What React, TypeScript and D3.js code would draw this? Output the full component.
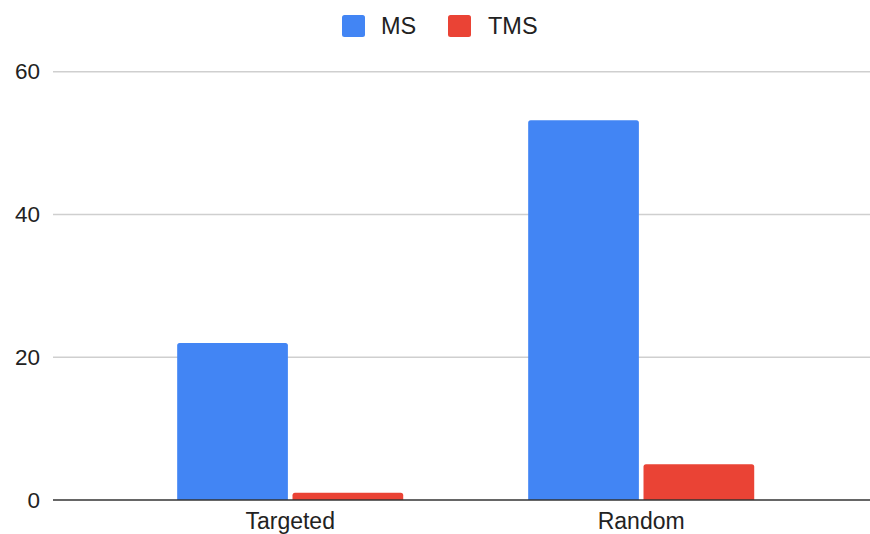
import React from "react";
import * as d3 from "d3";

const categories = ["Targeted", "Random"];
const seriesNames = ["MS", "TMS"];
const msValues = [22, 53.2];
const tmsValues = [1, 5];
const yTicks = [0, 20, 40, 60];
const colors = ["#4285F4", "#EA4335"];

const W = 870;
const H = 534;

function topRoundedRect(x: number, y: number, w: number, h: number, r: number) {
  const rr = Math.min(r, h, w / 2);
  return `M${x},${y + h}V${y + rr}Q${x},${y} ${x + rr},${y}H${x + w - rr}Q${x + w},${y} ${x + w},${y + rr}V${y + h}Z`;
}

export default function App() {
  const series = [msValues, tmsValues];
  const y = d3.scaleLinear().domain([0, 60]).range([500, 71.7]);
  const x0 = d3
    .scaleBand<string>()
    .domain(categories)
    .range([114.7, 816.7])
    .paddingInner(0.356)
    .paddingOuter(0.178);
  const x1 = d3
    .scaleBand<string>()
    .domain(seriesNames)
    .range([0, x0.bandwidth()])
    .paddingInner(0.04);

  const font = "'Liberation Sans', Arial, sans-serif";
  const legendItems = [
    { name: "MS", sx: 342, tx: 381 },
    { name: "TMS", sx: 448, tx: 488 },
  ];

  return (
    <svg
      width={W}
      height={H}
      style={{ position: "absolute", left: 0, top: 0, background: "#fff" }}
      fontFamily={font}
    >
      <rect width={W} height={H} fill="#fff" />
      {legendItems.map((it, i) => (
        <g key={it.name}>
          <rect x={it.sx} y={15} width={23} height={22} rx={2.5} fill={colors[i]} />
          <text x={it.tx} y={26} dominantBaseline="central" fontSize={23.5} fill="#222">
            {seriesNames[i]}
          </text>
        </g>
      ))}
      {yTicks.map((t) => (
        <g key={t}>
          {t !== 0 && (
            <line x1={53} x2={870} y1={y(t)} y2={y(t)} stroke="#cfcfcf" strokeWidth={1.5} />
          )}
          <text
            x={40}
            y={y(t)}
            textAnchor="end"
            dominantBaseline="central"
            fontSize={22.5}
            fill="#222"
          >
            {t}
          </text>
        </g>
      ))}
      {categories.map((c, ci) => (
        <g key={c}>
          {series.map((vals, si) => {
            const bx = (x0(c) ?? 0) + (x1(seriesNames[si]) ?? 0);
            const by = y(vals[ci]);
            return (
              <path
                key={si}
                d={topRoundedRect(bx, by, x1.bandwidth(), y(0) - by, 2.5)}
                fill={colors[si]}
              />
            );
          })}
          <text
            x={(x0(c) ?? 0) + x0.bandwidth() / 2}
            y={529}
            textAnchor="middle"
            fontSize={23}
            fill="#222"
          >
            {c}
          </text>
        </g>
      ))}
      <line x1={53} x2={870} y1={y(0)} y2={y(0)} stroke="#333" strokeWidth={1.5} />
    </svg>
  );
}
